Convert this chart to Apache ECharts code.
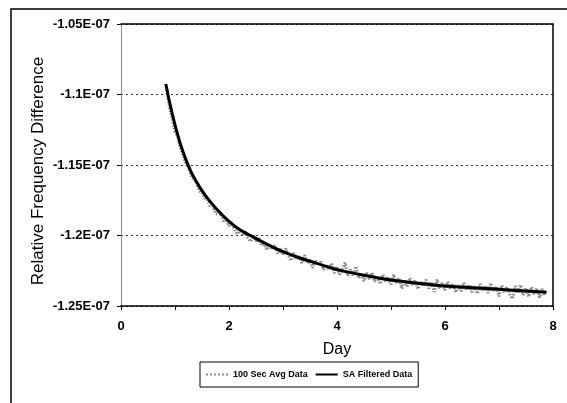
<!DOCTYPE html>
<html>
<head>
<meta charset="utf-8">
<script src="https://cdn.jsdelivr.net/npm/echarts@6/dist/echarts.min.js"></script>
<style>
html,body{margin:0;padding:0;background:#fff;}
#chart{width:567px;height:403px;}
</style>
</head>
<body>
<div id="chart"></div>
<script>
// Values in units of 1E-07
const avgDays = [0.85,0.90,0.95,1.00,1.05,1.10,1.15,1.20,1.25,1.30,1.35,1.40,1.45,1.50,1.55,1.60,1.65,1.70,1.75,1.80,1.85,1.90,1.95,2.00,2.05,2.10,2.15,2.20,2.25,2.30,2.35,2.40,2.45,2.50,2.55,2.60,2.65,2.70,2.75,2.80,2.85,2.90,2.95,3.00,3.05,3.10,3.15,3.20,3.25,3.30,3.35,3.40,3.45,3.50,3.55,3.60,3.65,3.70,3.75,3.80,3.85,3.90,3.95,4.00,4.05,4.10,4.15,4.20,4.25,4.30,4.35,4.40,4.45,4.50,4.55,4.60,4.65,4.70,4.75,4.80,4.85,4.90,4.95,5.00,5.05,5.10,5.15,5.20,5.25,5.30,5.35,5.40,5.45,5.50,5.55,5.60,5.65,5.70,5.75,5.80,5.85,5.90,5.95,6.00,6.05,6.10,6.15,6.20,6.25,6.30,6.35,6.40,6.45,6.50,6.55,6.60,6.65,6.70,6.75,6.80,6.85,6.90,6.95,7.00,7.05,7.10,7.15,7.20,7.25,7.30,7.35,7.40,7.45,7.50,7.55,7.60,7.65,7.70,7.75,7.80,7.85];
const avgValues = [-1.0965,-1.1095,-1.1170,-1.1262,-1.1300,-1.1382,-1.1428,-1.1495,-1.1514,-1.1575,-1.1604,-1.1622,-1.1684,-1.1696,-1.1735,-1.1743,-1.1788,-1.1793,-1.1845,-1.1847,-1.1846,-1.1896,-1.1894,-1.1931,-1.1909,-1.1955,-1.1990,-1.1958,-1.2000,-1.1973,-1.2015,-1.2042,-1.2001,-1.2042,-1.2012,-1.2072,-1.2052,-1.2102,-1.2061,-1.2100,-1.2069,-1.2128,-1.2096,-1.2134,-1.2092,-1.2140,-1.2177,-1.2124,-1.2171,-1.2148,-1.2194,-1.2140,-1.2196,-1.2172,-1.2228,-1.2174,-1.2210,-1.2186,-1.2242,-1.2208,-1.2244,-1.2200,-1.2266,-1.2222,-1.2276,-1.2240,-1.2194,-1.2288,-1.2242,-1.2286,-1.2220,-1.2304,-1.2268,-1.2322,-1.2266,-1.2310,-1.2263,-1.2327,-1.2290,-1.2344,-1.2277,-1.2330,-1.2293,-1.2346,-1.2279,-1.2341,-1.2303,-1.2375,-1.2317,-1.2360,-1.2302,-1.2354,-1.2316,-1.2378,-1.2330,-1.2362,-1.2314,-1.2376,-1.2328,-1.2400,-1.2312,-1.2374,-1.2336,-1.2388,-1.2329,-1.2380,-1.2342,-1.2403,-1.2354,-1.2395,-1.2337,-1.2388,-1.2349,-1.2400,-1.2361,-1.2412,-1.2344,-1.2395,-1.2356,-1.2407,-1.2338,-1.2399,-1.2361,-1.2432,-1.2353,-1.2404,-1.2365,-1.2417,-1.2448,-1.2359,-1.2410,-1.2351,-1.2422,-1.2373,-1.2434,-1.2365,-1.2416,-1.2378,-1.2439,-1.2380,-1.2432];

const filtDays = [0.83,0.9,1.0,1.1,1.2,1.3,1.4,1.5,1.6,1.8,2.0,2.2,2.4,2.6,2.8,3.0,3.3,3.6,4.0,4.5,5.0,5.5,6.0,6.5,7.0,7.5,7.88];
const filtValues = [-1.0925,-1.1055,-1.1215,-1.1350,-1.1460,-1.1550,-1.1620,-1.1682,-1.1735,-1.1825,-1.1900,-1.1960,-1.2000,-1.2042,-1.2080,-1.2114,-1.2158,-1.2194,-1.2242,-1.2282,-1.2316,-1.2338,-1.2358,-1.2370,-1.2382,-1.2393,-1.2403];

const yTickValues = [-1.25,-1.2,-1.15,-1.1,-1.05];
const yTickLabels = ['-1.25E-07','-1.2E-07','-1.15E-07','-1.1E-07','-1.05E-07'];
const xTickLabels = ['0','2','4','6','8'];

const seriesNames = ['100 Sec Avg Data','SA Filtered Data'];
const yTitle = 'Relative Frequency Difference';
const xTitle = 'Day';

const chart = echarts.init(document.getElementById('chart'), null, {renderer:'canvas'});
const FONT = 'Liberation Sans, Arial, sans-serif';

function yLabel(v){
  let best = 0, d = 1e9;
  yTickValues.forEach((t,i)=>{ if(Math.abs(t-v)<d){d=Math.abs(t-v);best=i;} });
  return d < 1e-6 ? yTickLabels[best] : '';
}
function xLabel(v){
  const r = Math.round(v);
  return (Math.abs(v-r)<1e-6 && r%2===0) ? xTickLabels[r/2] : '';
}

const dottedIcon = 'path://M0,0h2v2h-2zM4,0h2v2h-2zM8,0h2v2h-2zM12,0h2v2h-2zM16,0h2v2h-2zM20,0h2v2h-2z';
const solidIcon = 'path://M0,0h22v2h-22z';

chart.setOption({
  backgroundColor:'#fff',
  animation:false,
  graphic:[
    {type:'rect', shape:{x:11,y:9,width:570,height:410}, style:{fill:'none',stroke:'#000',lineWidth:1.5}, silent:true, z:-1},
    {type:'text', x:38, y:171, rotation:Math.PI/2, silent:true,
     style:{text:yTitle, fontFamily:FONT, fontSize:17, fill:'#000', align:'center', verticalAlign:'middle'}}
  ],
  grid:{left:121, top:24, width:432, height:282, show:false},
  legend:{
    left:200, top:362,
    padding:[8,6,8,6],
    borderColor:'#000', borderWidth:1,
    itemWidth:22, itemHeight:2, itemGap:8,
    textStyle:{fontFamily:FONT, fontSize:9, fontWeight:'bold', color:'#000'},
    data:[
      {name:seriesNames[0], icon:dottedIcon, itemStyle:{color:'#888'}},
      {name:seriesNames[1], icon:solidIcon, itemStyle:{color:'#000'}}
    ]
  },
  xAxis:[{
    type:'value', min:0, max:8, interval:1,
    name:xTitle, nameLocation:'middle', nameGap:36,
    nameTextStyle:{fontFamily:FONT, fontSize:16, color:'#000'},
    axisLine:{show:true, onZero:false, lineStyle:{color:'#000', width:1.5}},
    axisTick:{show:true, length:4, lineStyle:{color:'#000'}},
    axisLabel:{formatter:xLabel, fontFamily:FONT, fontSize:13, fontWeight:'bold', color:'#000', margin:14},
    splitLine:{show:false}
  },{
    type:'value', min:0, max:8, position:'top',
    axisLine:{show:true, onZero:false, lineStyle:{color:'#000', width:1.5}},
    axisTick:{show:false}, axisLabel:{show:false}, splitLine:{show:false}
  }],
  yAxis:[{
    type:'value', min:-1.25, max:-1.05, interval:0.05,
    axisLine:{show:true, onZero:false, lineStyle:{color:'#888', width:1}},
    axisTick:{show:true, length:4, lineStyle:{color:'#000'}},
    axisLabel:{formatter:yLabel, fontFamily:FONT, fontSize:13, fontWeight:'bold', color:'#000', margin:11},
    splitLine:{show:true, lineStyle:{color:'#333', type:[2,3], width:1}}
  },{
    type:'value', min:-1.25, max:-1.05, position:'right',
    axisLine:{show:true, onZero:false, lineStyle:{color:'#000', width:1.5}},
    axisTick:{show:false}, axisLabel:{show:false}, splitLine:{show:false}
  }],
  series:[
    {
      name:seriesNames[0], type:'line', symbol:'none', z:2,
      data: avgDays.map((d,i)=>[d, avgValues[i]]),
      lineStyle:{color:'#8a8a8a', width:3.2, type:[1.5,1.5]},
      itemStyle:{color:'#888'}
    },
    {
      name:seriesNames[1], type:'line', symbol:'none', z:3, smooth:0.3,
      data: filtDays.map((d,i)=>[d, filtValues[i]]),
      lineStyle:{color:'#000', width:3},
      itemStyle:{color:'#000'}
    }
  ]
});
</script>
</body>
</html>
